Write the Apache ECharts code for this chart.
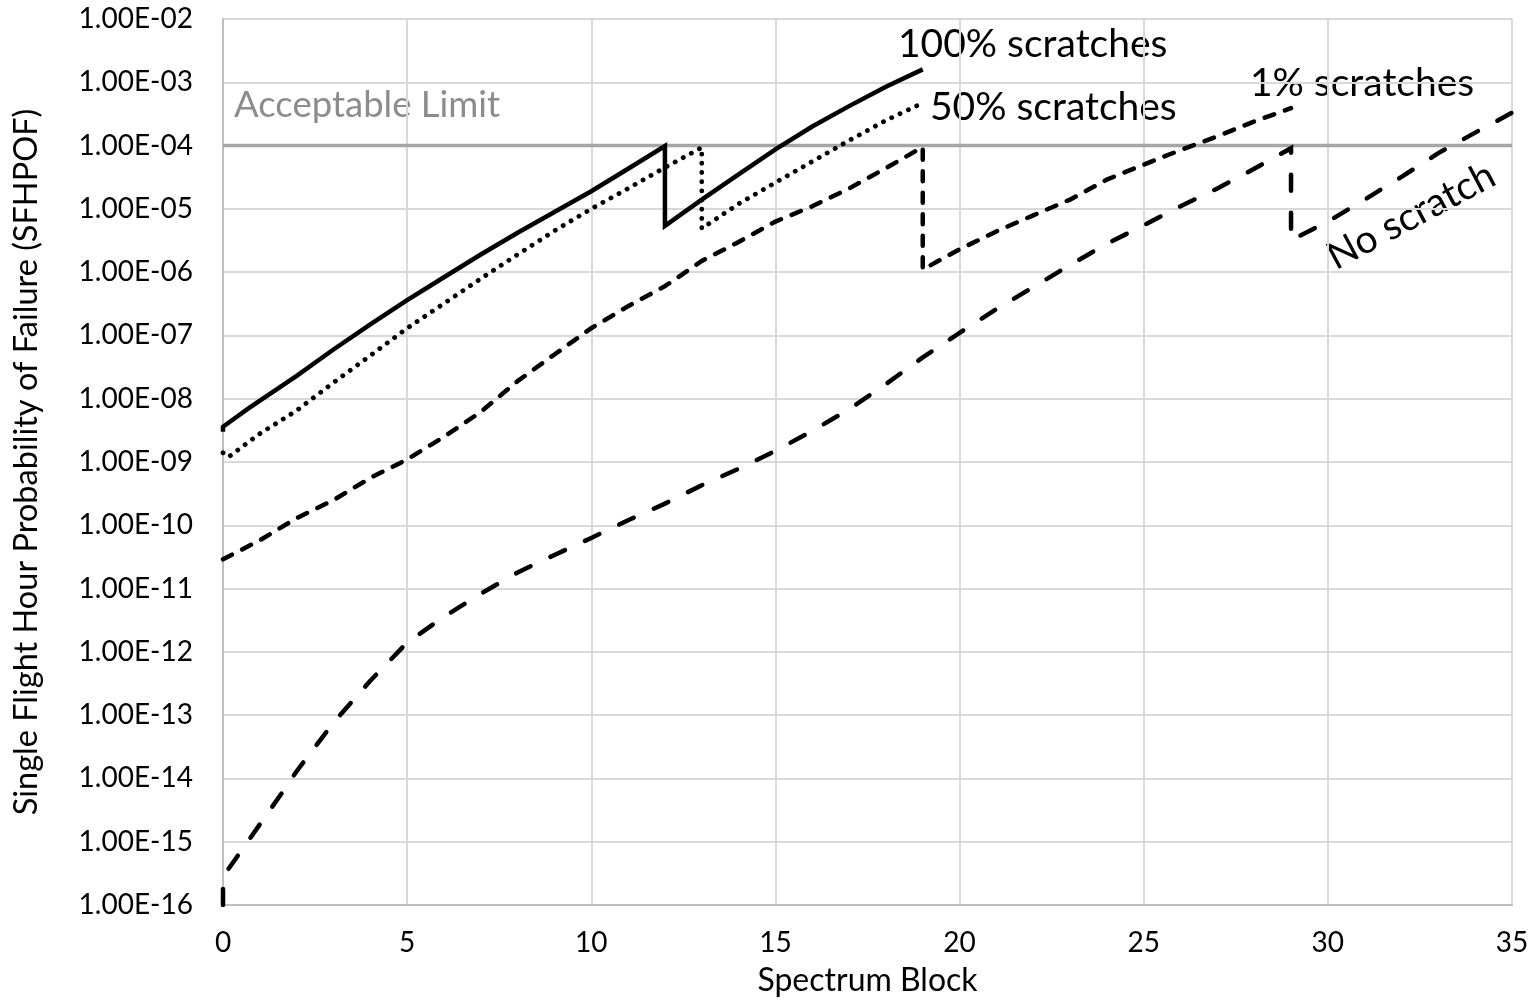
<!DOCTYPE html>
<html>
<head>
<meta charset="utf-8">
<title>SFHPOF vs Spectrum Block</title>
<script src="https://cdn.jsdelivr.net/npm/echarts@6/dist/echarts.min.js"></script>
<style>
  html, body { margin: 0; padding: 0; background: #fff; }
  #chart { width: 1532px; height: 1003px; }
</style>
</head>
<body>
<div id="chart"></div>
<script>
// Spectrum block positions and single flight hour probability of failure per curve
const blocks100 = [0, 0, 0.7, 2, 3, 4, 5, 6, 7, 8, 9, 10, 11, 12, 12, 13, 14, 15, 16, 17, 18, 19];
const pof100 = [3.0e-9, 3.6e-9, 7.1e-9, 2.3e-8, 6.0e-8, 1.5e-7, 3.6e-7, 8.3e-7, 1.9e-6, 4.2e-6, 8.9e-6,
  1.9e-5, 4.3e-5, 9.8e-5, 5.4e-6, 1.4e-5, 3.5e-5, 8.7e-5, 2.0e-4, 4.2e-4, 8.5e-4, 1.6e-3];

const blocks50 = [0, 0.15, 1, 2, 3, 4, 5, 6, 7, 8, 9, 10, 11, 12, 13, 13, 14, 15, 16, 17, 18, 19];
const pof50 = [1.4e-9, 1.2e-9, 2.8e-9, 6.5e-9, 1.8e-8, 4.8e-8, 1.3e-7, 3.2e-7, 7.9e-7, 1.9e-6, 4.5e-6,
  1.0e-5, 2.1e-5, 4.5e-5, 9.3e-5, 4.9e-6, 1.2e-5, 2.6e-5, 5.6e-5, 1.2e-4, 2.5e-4, 4.7e-4];

const blocks1 = [0, 1, 2, 3, 4, 5, 6, 7, 8, 9, 10, 11, 12, 13, 14, 15, 16, 17, 18, 19,
  19, 20, 21, 22, 23, 24, 25, 26, 27, 28, 29];
const pof1 = [2.9e-11, 5.8e-11, 1.3e-10, 2.5e-10, 5.6e-10, 1.1e-9, 2.5e-9, 6.2e-9, 1.9e-8, 5.0e-8,
  1.3e-7, 2.9e-7, 6.0e-7, 1.5e-6, 3.0e-6, 6.3e-6, 1.1e-5, 2.1e-5, 4.4e-5, 9.5e-5,
  1.1e-6, 2.3e-6, 4.4e-6, 7.9e-6, 1.4e-5, 2.9e-5, 5.0e-5, 8.5e-5, 1.4e-4, 2.4e-4, 3.9e-4];

const blocks0 = [0, 0, 1.6, 2, 3, 4, 5, 6, 7, 8, 9, 10, 11, 12, 13, 14, 15, 16, 17, 18, 19, 20,
  21, 22, 23, 24, 25, 26, 27, 28, 29, 29, 30, 31, 32, 33, 34, 35];
const pof0 = [1.0e-16, 2.8e-16, 5.9e-15, 1.3e-14, 7.6e-14, 3.5e-13, 1.4e-12, 3.6e-12, 8.3e-12, 1.8e-11,
  3.4e-11, 6.3e-11, 1.2e-10, 2.2e-10, 4.3e-10, 7.8e-10, 1.5e-9, 3.1e-9, 6.8e-9, 1.7e-8, 4.5e-8,
  1.1e-7, 2.6e-7, 5.8e-7, 1.3e-6, 2.8e-6, 5.5e-6, 1.1e-5, 2.1e-5, 4.3e-5, 9.1e-5,
  3.2e-6, 6.3e-6, 1.4e-5, 3.2e-5, 7.6e-5, 1.6e-4, 3.3e-4];

// Acceptable limit level across the whole block range
const limitBlocks = [0, 35];
const limitPof = [1e-4, 1e-4];

const seriesLabels = ['100% scratches', '50% scratches', '1% scratches', 'No scratch'];

const pairs = (xs, ys) => xs.map((x, i) => [x, ys[i]]);
const FONT = 'Lato, "Open Sans", sans-serif';

const chart = echarts.init(document.getElementById('chart'), null, { renderer: 'canvas' });

const curve = (name, xs, ys, style) => ({
  name,
  type: 'line',
  data: pairs(xs, ys),
  showSymbol: false,
  symbol: 'none',
  z: 3,
  lineStyle: Object.assign({ color: '#000', width: 4.5, join: 'miter' }, style)
});

chart.setOption({
  animation: false,
  backgroundColor: '#ffffff',
  grid: { left: 223, right: 20, top: 19, bottom: 98, containLabel: false },
  xAxis: {
    type: 'value',
    min: 0,
    max: 35,
    interval: 5,
    axisLine: { show: true, onZero: false, lineStyle: { color: '#bfbfbf', width: 2 } },
    axisTick: { show: false },
    splitLine: { show: true, lineStyle: { color: '#d9d9d9', width: 2 } },
    axisLabel: { fontFamily: FONT, fontSize: 28, color: '#000', margin: 24 },
    name: 'Spectrum Block',
    nameLocation: 'middle',
    nameGap: 60,
    nameTextStyle: { fontFamily: FONT, fontSize: 32, color: '#000' }
  },
  yAxis: {
    type: 'log',
    logBase: 10,
    min: 1e-16,
    max: 1e-2,
    interval: 1,
    splitNumber: 14,
    axisLine: { show: true, lineStyle: { color: '#bfbfbf', width: 2 } },
    axisTick: { show: false },
    splitLine: { show: true, lineStyle: { color: '#d9d9d9', width: 2 } },
    axisLabel: {
      fontFamily: FONT,
      fontSize: 28,
      color: '#000',
      margin: 30,
      formatter: (v) => {
        const e = Math.round(Math.log10(v));
        return '1.00E' + (e < 0 ? '-' : '+') + String(Math.abs(e)).padStart(2, '0');
      }
    },
    name: 'Single Flight Hour Probability of Failure (SFHPOF)',
    nameLocation: 'middle',
    nameGap: 180,
    nameRotate: 90,
    nameTextStyle: { fontFamily: FONT, fontSize: 32.5, color: '#000' }
  },
  series: [
    {
      name: 'Acceptable Limit',
      type: 'line',
      data: pairs(limitBlocks, limitPof),
      symbol: 'none',
      z: 2,
      lineStyle: { color: '#a6a6a6', width: 3.5 }
    },
    curve(seriesLabels[0], blocks100, pof100, { type: 'solid' }),
    curve(seriesLabels[1], blocks50, pof50, { type: [0.1, 9.1], cap: 'round', width: 4.8 }),
    curve(seriesLabels[2], blocks1, pof1, { type: [10, 11.5], cap: 'round' }),
    curve(seriesLabels[3], blocks0, pof0, { type: [16, 22], cap: 'round' })
  ],
  graphic: [
    { type: 'text', x: 234, y: 105, style: { text: 'Acceptable Limit', font: '36.5px ' + FONT, fill: '#8c8c8c', align: 'left', verticalAlign: 'middle' } },
    { type: 'text', x: 898, y: 44, style: { text: seriesLabels[0], font: '39px ' + FONT, fill: '#000', align: 'left', verticalAlign: 'middle' } },
    { type: 'text', x: 930, y: 107, style: { text: seriesLabels[1], font: '39px ' + FONT, fill: '#000', align: 'left', verticalAlign: 'middle' } },
    { type: 'text', x: 1250, y: 83, style: { text: seriesLabels[2], font: '39px ' + FONT, fill: '#000', align: 'left', verticalAlign: 'middle' } },
    { type: 'text', x: 1411, y: 216, rotation: 0.49, style: { text: seriesLabels[3], font: '39px ' + FONT, fill: '#000', align: 'center', verticalAlign: 'middle' } }
  ]
});
</script>
</body>
</html>
